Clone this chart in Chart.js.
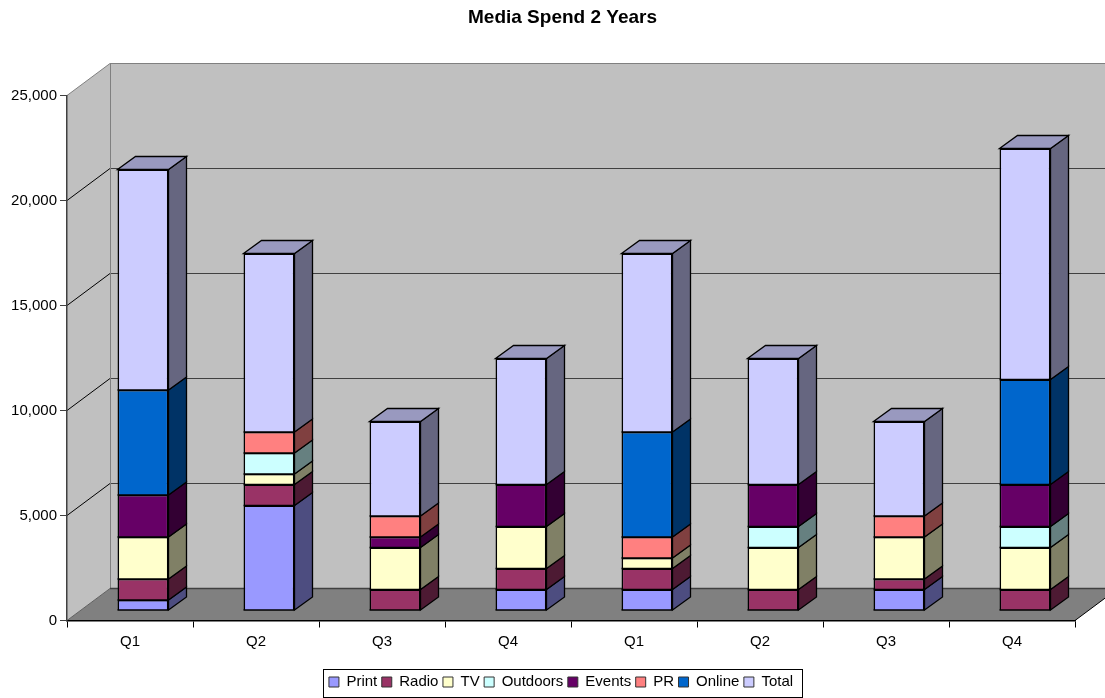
<!DOCTYPE html>
<html>
<head>
<meta charset="utf-8">
<title>Media Spend 2 Years</title>
<script src="https://cdn.jsdelivr.net/npm/chart.js@4"></script>
<style>
  html, body { margin: 0; padding: 0; background: #fff; }
  canvas { display: block; }
</style>
</head>
<body>
<canvas id="spendChart" width="1105" height="698"></canvas>
<script>
const quarters = ["Q1","Q2","Q3","Q4","Q1","Q2","Q3","Q4"];

const print    = [500, 5000, 0, 1000, 1000, 0, 1000, 0];
const radio    = [1000, 1000, 1000, 1000, 1000, 1000, 500, 1000];
const tv       = [2000, 500, 2000, 2000, 500, 2000, 2000, 2000];
const outdoors = [0, 1000, 0, 0, 0, 1000, 0, 1000];
const events   = [2000, 0, 500, 2000, 0, 2000, 0, 2000];
const pr       = [0, 1000, 1000, 0, 1000, 0, 1000, 0];
const online   = [5000, 0, 0, 0, 5000, 0, 0, 5000];
const total    = [10500, 8500, 4500, 6000, 8500, 6000, 4500, 11000];

// 3D look: depth of the box and how far the bars sit behind the front plane
const WALL_DX = 43, WALL_DY = 32;
const BAR_DX = 18, BAR_DY = 13;
const BAR_SHIFT_X = 13, BAR_SHIFT_Y = 10;
const BAR_LINE = 1.6;
const FONT = "'Liberation Sans', Arial, sans-serif";

function shade(hex, f) {
  const n = parseInt(hex.slice(1), 16);
  const c = [n >> 16, (n >> 8) & 255, n & 255].map(v => Math.round(v * f));
  return `rgb(${c[0]},${c[1]},${c[2]})`;
}

function poly(ctx, pts, fill, stroke, lw) {
  ctx.beginPath();
  pts.forEach((p, i) => i ? ctx.lineTo(p[0], p[1]) : ctx.moveTo(p[0], p[1]));
  ctx.closePath();
  if (fill) { ctx.fillStyle = fill; ctx.fill(); }
  if (stroke) { ctx.strokeStyle = stroke; ctx.lineWidth = lw || 1; ctx.stroke(); }
}

function line(ctx, x0, y0, x1, y1, color, lw) {
  ctx.beginPath();
  ctx.moveTo(x0, y0);
  ctx.lineTo(x1, y1);
  ctx.strokeStyle = color;
  ctx.lineWidth = lw || 1;
  ctx.stroke();
}

// Walls and floor, behind the axes
const wallsPlugin = {
  id: "walls",
  beforeDraw(chart) {
    const { ctx, chartArea: a, scales } = chart;
    const l = a.left, r = a.right, t = a.top, b = a.bottom;
    const dx = WALL_DX, dy = WALL_DY;
    ctx.save();
    poly(ctx, [[l + dx, t - dy], [r + dx, t - dy], [r + dx, b - dy], [l + dx, b - dy]], "#c0c0c0");
    poly(ctx, [[l, t], [l + dx, t - dy], [l + dx, b - dy], [l, b]], "#c0c0c0");
    poly(ctx, [[l, b], [l + dx, b - dy], [r + dx, b - dy], [r, b]], "#808080");
    scales.y.ticks.forEach(tick => {
      const y = scales.y.getPixelForValue(tick.value);
      if (tick.value > 0 && tick.value < scales.y.max) {
        line(ctx, l, y, l + dx, y - dy, "#000");
        line(ctx, l + dx, y - dy, r + dx, y - dy, "#404040");
      }
    });
    line(ctx, l, t, l + dx, t - dy, "#808080");
    line(ctx, l + dx + 0.5, t - dy, l + dx + 0.5, b - dy, "#808080");
    line(ctx, l + dx, t - dy, r + dx, t - dy, "#808080");
    line(ctx, l, b, l + dx, b - dy, "#606060");
    line(ctx, l + dx, b - dy, r + dx, b - dy, "#404040", 1.5);
    line(ctx, r, b, r + dx, b - dy, "#000");
    ctx.restore();
  }
};

// Shifts the library's bars off the front plane, then adds side and top faces
const depthPlugin = {
  id: "depth",
  beforeDatasetsDraw(chart) {
    chart.ctx.save();
    chart.ctx.translate(BAR_SHIFT_X, -BAR_SHIFT_Y);
  },
  afterDatasetsDraw(chart) {
    const ctx = chart.ctx;
    const last = chart.data.datasets.length - 1;
    chart.data.datasets.forEach((ds, i) => {
      chart.getDatasetMeta(i).data.forEach(bar => {
        const xr = bar.x + bar.width / 2, xl = bar.x - bar.width / 2;
        const top = Math.min(bar.y, bar.base), bot = Math.max(bar.y, bar.base);
        if (bot - top < 0.5) return;
        poly(ctx, [[xr, top], [xr + BAR_DX, top - BAR_DY], [xr + BAR_DX, bot - BAR_DY], [xr, bot]],
          shade(ds.backgroundColor, 0.5), "#000", 1.3);
        line(ctx, xl, bot, xr, bot, "#000", BAR_LINE);
        if (i === last) {
          poly(ctx, [[xl, top], [xl + BAR_DX, top - BAR_DY], [xr + BAR_DX, top - BAR_DY], [xr, top]],
            shade(ds.backgroundColor, 0.75), "#000", 1.3);
        }
      });
    });
    ctx.restore();
  },
  afterDraw(chart) {
    const ctx = chart.ctx, hits = chart.legend.legendHitBoxes;
    const x0 = hits[0].left - 6, x1 = hits[hits.length - 1].left + hits[hits.length - 1].width + 9;
    ctx.save();
    ctx.strokeStyle = "#000";
    ctx.lineWidth = 1;
    ctx.strokeRect(Math.round(x0) + 0.5, 669.5, Math.round(x1 - x0), 28);
    ctx.restore();
  }
};

// Title and legend are centred a bit right of the canvas middle
const centrePlugin = {
  id: "centre",
  afterLayout(chart) {
    chart.titleBlock.left += 50;
    chart.legend.left += 47;
    chart.legend.top = 670;
    chart.legend.adjustHitBoxes();
  }
};

const series = [
  ["Print", print, "#9999ff"],
  ["Radio", radio, "#993366"],
  ["TV", tv, "#ffffcc"],
  ["Outdoors", outdoors, "#ccffff"],
  ["Events", events, "#660066"],
  ["PR", pr, "#ff8080"],
  ["Online", online, "#0066cc"],
  ["Total", total, "#ccccff"]
];

new Chart(document.getElementById("spendChart").getContext("2d"), {
  type: "bar",
  data: {
    labels: quarters,
    datasets: series.map(s => ({
      label: s[0],
      data: s[1],
      backgroundColor: s[2],
      borderColor: "#000",
      borderWidth: BAR_LINE,
      borderSkipped: "bottom",
      categoryPercentage: 1,
      barPercentage: 51 / 126,
      inflateAmount: 0
    }))
  },
  plugins: [wallsPlugin, depthPlugin, centrePlugin],
  options: {
    responsive: false,
    animation: false,
    layout: { padding: { left: 0, right: 30, top: 0, bottom: 0 } },
    scales: {
      x: {
        stacked: true,
        grid: { drawOnChartArea: false, color: "#000", tickLength: 7 },
        border: { color: "#000", width: 1.5 },
        ticks: { color: "#000", font: { family: FONT, size: 15 }, padding: 5, maxRotation: 0 },
        afterFit: s => { s.height = 48; }
      },
      y: {
        stacked: true,
        min: 0,
        max: 25000,
        grid: { drawOnChartArea: false, color: "#404040", tickLength: 7 },
        border: { color: "#404040", width: 1.5 },
        ticks: { color: "#000", stepSize: 5000, font: { family: FONT, size: 15 }, padding: 3,
          callback: v => v.toLocaleString("en-US") },
        afterFit: s => { s.width = 67; }
      }
    },
    plugins: {
      title: {
        display: true,
        text: "Media Spend 2 Years",
        color: "#000",
        font: { family: FONT, size: 19, weight: "bold" },
        padding: { top: 6, bottom: 66.7 }
      },
      legend: {
        position: "bottom",
        labels: {
          color: "#000",
          font: { family: FONT, size: 15 },
          boxWidth: 10,
          boxHeight: 10,
          padding: 4.5,
          generateLabels: chart => Chart.defaults.plugins.legend.labels.generateLabels(chart)
            .map(item => ({ ...item, lineWidth: 1, strokeStyle: "#333" }))
        }
      },
      tooltip: { enabled: false }
    }
  }
});
</script>
</body>
</html>
